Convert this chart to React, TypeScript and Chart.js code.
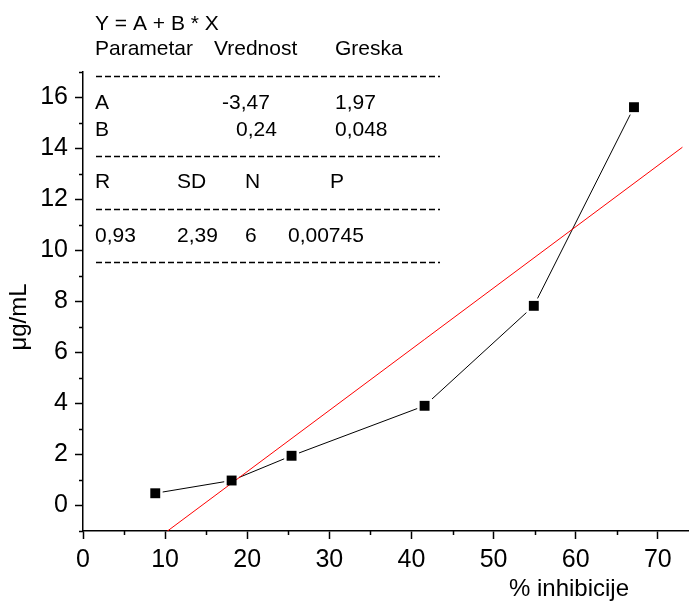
import React, { useEffect, useRef } from 'react';
import { Chart, registerables } from 'chart.js';

Chart.register(...registerables);

// Measured points: % inhibition vs. concentration (µg/mL)
const inhibition = [8.8, 18.1, 25.4, 41.6, 54.9, 67.1];
const concentration = [0.48, 0.98, 1.95, 3.91, 7.83, 15.62];

// Linear fit Y = A + B * X
const fitA = -3.47;
const fitB = 0.24;
const fitFrom = 10;
const fitTo = 73;

// Fit report table
const equationText = 'Y = A + B * X';
const paramHeader = ['Parametar', 'Vrednost', 'Greska'];
const rowA = ['A', '-3,47', '1,97'];
const rowB = ['B', '0,24', '0,048'];
const statHeader = ['R', 'SD', 'N', 'P'];
const statValues = ['0,93', '2,39', '6', '0,00745'];

const xTitle = '% inhibicije';
const yTitle = '\u03BCg/mL';

const FONT = '"Liberation Sans", Arial, Helvetica, sans-serif';

const decorations = {
  id: 'decorations',
  afterDraw(chart: any) {
    const { ctx, chartArea, scales } = chart;
    const xs = scales.x;
    const ys = scales.y;
    ctx.save();

    // minor tick marks
    ctx.strokeStyle = '#000';
    ctx.lineWidth = 1.5;
    ctx.beginPath();
    xs.ticks.forEach((t: any) => {
      if (t.value % 10 !== 0) {
        const px = Math.round(xs.getPixelForValue(t.value)) + 0.5;
        ctx.moveTo(px, chartArea.bottom);
        ctx.lineTo(px, chartArea.bottom + 4);
      }
    });
    ys.ticks.forEach((t: any) => {
      if (t.value % 2 !== 0) {
        const py = Math.round(ys.getPixelForValue(t.value)) + 0.5;
        ctx.moveTo(chartArea.left - 4, py);
        ctx.lineTo(chartArea.left, py);
      }
    });
    ctx.stroke();

    // axis titles
    ctx.fillStyle = '#000';
    ctx.font = `24px ${FONT}`;
    ctx.textAlign = 'center';
    ctx.textBaseline = 'middle';
    ctx.fillText(xTitle, 569, 589);
    ctx.save();
    ctx.translate(19, 317);
    ctx.rotate(-Math.PI / 2);
    ctx.fillText(yTitle, 0, 0);
    ctx.restore();

    // fit report
    ctx.font = `21px ${FONT}`;
    ctx.textAlign = 'left';
    ctx.textBaseline = 'middle';
    const put = (s: string, x: number, y: number) => ctx.fillText(s, x, y);
    put(equationText, 95, 24);
    put(paramHeader[0], 95, 49);
    put(paramHeader[1], 214, 49);
    put(paramHeader[2], 335, 49);
    put(rowA[0], 95, 103);
    put(rowA[1], 222, 103);
    put(rowA[2], 335, 103);
    put(rowB[0], 95, 130);
    put(rowB[1], 236, 130);
    put(rowB[2], 335, 130);
    put(statHeader[0], 95, 182);
    put(statHeader[1], 177, 182);
    put(statHeader[2], 245, 182);
    put(statHeader[3], 330, 182);
    put(statValues[0], 95, 236);
    put(statValues[1], 177, 236);
    put(statValues[2], 245, 236);
    put(statValues[3], 288, 236);

    ctx.setLineDash([6, 3]);
    ctx.lineWidth = 1.5;
    [76, 156, 209, 262].forEach((y) => {
      ctx.beginPath();
      ctx.moveTo(96, y + 0.5);
      ctx.lineTo(440, y + 0.5);
      ctx.stroke();
    });
    ctx.restore();
  },
};

export default function App() {
  const canvasRef = useRef<HTMLCanvasElement | null>(null);

  useEffect(() => {
    const canvas = canvasRef.current;
    if (!canvas) return;
    const points = inhibition.map((x, i) => ({ x, y: concentration[i] }));
    const fitLine = [fitFrom, fitTo].map((x) => ({ x, y: fitA + fitB * x }));

    const chart = new Chart(canvas, {
      type: 'scatter',
      data: {
        datasets: [
          {
            label: 'connect',
            data: points,
            showLine: true,
            borderColor: '#000',
            borderWidth: 1,
            pointRadius: 0,
            order: 4,
          },
          {
            label: 'halo',
            data: points,
            showLine: false,
            pointStyle: 'rect',
            pointRadius: 10.5,
            backgroundColor: '#fff',
            borderWidth: 0,
            order: 3,
          },
          {
            label: 'fit',
            data: fitLine,
            showLine: true,
            borderColor: '#ff0000',
            borderWidth: 1,
            pointRadius: 0,
            order: 2,
          },
          {
            label: 'data',
            data: points,
            showLine: false,
            pointStyle: 'rect',
            pointRadius: 7,
            backgroundColor: '#000',
            borderWidth: 0,
            order: 1,
          },
        ],
      },
      options: {
        responsive: false,
        animation: false,
        devicePixelRatio: 1,
        layout: { autoPadding: false, padding: { top: 72, left: 0, right: 0, bottom: 0 } },
        plugins: { legend: { display: false }, tooltip: { enabled: false } },
        scales: {
          x: {
            type: 'linear',
            min: 0,
            max: 73.8,
            afterFit: (s: any) => {
              s.height = 70;
              s.paddingLeft = 0;
              s.paddingRight = 0;
            },
            ticks: {
              stepSize: 5,
              includeBounds: false,
              autoSkip: false,
              maxRotation: 0,
              padding: 6,
              color: '#000',
              font: { family: FONT, size: 25 },
              callback: (v: any) => (Number(v) % 10 === 0 ? String(v) : ''),
            },
            grid: {
              drawOnChartArea: false,
              tickLength: 8,
              tickWidth: 1.5,
              color: '#000',
              tickColor: (c: any) =>
                c.tick && c.tick.value % 10 === 0 ? '#000' : 'rgba(0,0,0,0)',
            },
            border: { display: true, color: '#000', width: 1.5 },
          },
          y: {
            type: 'linear',
            min: -1,
            max: 17,
            afterFit: (s: any) => {
              s.width = 83;
              s.paddingTop = 0;
              s.paddingBottom = 0;
            },
            ticks: {
              stepSize: 1,
              includeBounds: false,
              autoSkip: false,
              padding: 7,
              color: '#000',
              font: { family: FONT, size: 25 },
              callback: (v: any) => (Number(v) % 2 === 0 ? String(v) : ''),
            },
            grid: {
              drawOnChartArea: false,
              tickLength: 8,
              tickWidth: 1.5,
              color: '#000',
              tickColor: (c: any) =>
                c.tick && c.tick.value % 2 === 0 ? '#000' : 'rgba(0,0,0,0)',
            },
            border: { display: true, color: '#000', width: 1.5 },
          },
        },
      },
      plugins: [decorations],
    });
    return () => chart.destroy();
  }, []);

  return (
    <div style={{ position: 'absolute', left: 0, top: 0, width: 689, height: 601, background: '#fff' }}>
      <canvas ref={canvasRef} width={689} height={601} style={{ display: 'block' }} />
    </div>
  );
}
